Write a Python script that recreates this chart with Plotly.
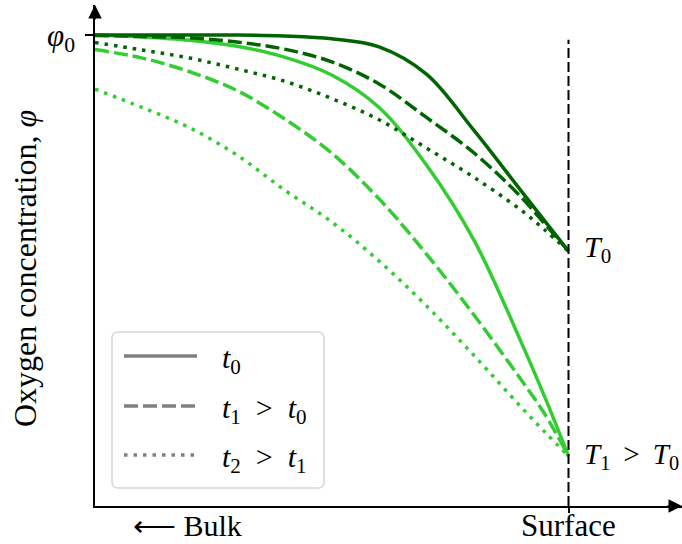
import plotly.graph_objects as go

# Oxygen concentration profiles from the bulk (left, 0) to the surface (right, 1).
# Two surface temperatures (T0 dark, T1 light), three times each (solid, dashed, dotted).
depth = [0, 0.1, 0.2, 0.3, 0.4, 0.5, 0.6, 0.7, 0.8, 0.9, 0.95, 1.0]

dark_t0 = [1.0, 1.0, 1.0, 1.0, 0.998, 0.992, 0.975, 0.917, 0.798, 0.669, 0.605, 0.541]
dark_t1 = [0.999, 0.997, 0.994, 0.985, 0.970, 0.943, 0.896, 0.825, 0.750, 0.656, 0.599, 0.541]
dark_t2 = [0.984, 0.968, 0.951, 0.928, 0.902, 0.865, 0.820, 0.760, 0.698, 0.628, 0.586, 0.541]

light_t0 = [1.0, 0.996, 0.989, 0.976, 0.953, 0.915, 0.846, 0.724, 0.565, 0.348, 0.231, 0.106]
light_t1 = [0.969, 0.951, 0.922, 0.882, 0.822, 0.749, 0.652, 0.535, 0.406, 0.268, 0.195, 0.106]
light_t2 = [0.885, 0.846, 0.803, 0.745, 0.671, 0.603, 0.520, 0.425, 0.320, 0.210, 0.157, 0.106]

time_labels = ["<i>t</i><sub>0</sub>",
               "<i>t</i><sub>1</sub>\u00a0\u00a0>\u00a0\u00a0<i>t</i><sub>0</sub>",
               "<i>t</i><sub>2</sub>\u00a0\u00a0>\u00a0\u00a0<i>t</i><sub>1</sub>"]
temp_labels = ["<i>T</i><sub>0</sub>",
               "<i>T</i><sub>1</sub>\u00a0\u2009>\u00a0\u2009<i>T</i><sub>0</sub>"]
x_labels = ["\u27f5 Bulk", "Surface"]
y_label = "Oxygen concentration, <i>\u03c6</i>"
y_tick_label = "<i>\u03c6</i><sub>0</sub>"

SURFACE_X = 1.0
PHI0 = 1.0

DARK = "#006400"
LIGHT = "#32CD32"
GRAY = "#808080"
FONT = "Liberation Serif"
DASHES = ["solid", "14px,5px", "3.5px,6px"]

W, H = 682, 544
ML, MR, MT, MB = 95, 0, 5, 38
X_MAX = 1.2397
Y_MAX = 1.0637


def px_x(px):
    return (px - ML) / (W - ML - MR)


def px_y(py):
    return (H - MB - py) / (H - MT - MB)


fig = go.Figure()

series = [
    (light_t0, LIGHT, 0), (light_t1, LIGHT, 1), (light_t2, LIGHT, 2),
    (dark_t0, DARK, 0), (dark_t1, DARK, 1), (dark_t2, DARK, 2),
]
for ys, col, k in series:
    fig.add_trace(go.Scatter(
        x=depth, y=ys, mode="lines",
        line=dict(color=col, width=3.5, dash=DASHES[k], shape="spline", smoothing=1.0),
        showlegend=False, hoverinfo="skip"))

shapes = []
# surface marker line
shapes.append(dict(type="line", xref="x", yref="y", x0=SURFACE_X, x1=SURFACE_X,
                   y0=0, y1=0.99, line=dict(color="black", width=2, dash="10px,4px")))

# legend box with rounded corners
bx0, bx1, by0, by1, r = 112, 324, 332, 488, 6
path = (f"M {px_x(bx0 + r)} {px_y(by0)} L {px_x(bx1 - r)} {px_y(by0)} "
        f"Q {px_x(bx1)} {px_y(by0)} {px_x(bx1)} {px_y(by0 + r)} "
        f"L {px_x(bx1)} {px_y(by1 - r)} Q {px_x(bx1)} {px_y(by1)} {px_x(bx1 - r)} {px_y(by1)} "
        f"L {px_x(bx0 + r)} {px_y(by1)} Q {px_x(bx0)} {px_y(by1)} {px_x(bx0)} {px_y(by1 - r)} "
        f"L {px_x(bx0)} {px_y(by0 + r)} Q {px_x(bx0)} {px_y(by0)} {px_x(bx0 + r)} {px_y(by0)} Z")
shapes.append(dict(type="path", xref="paper", yref="paper", path=path,
                   line=dict(color="#d6d6d6", width=1.5), fillcolor="rgba(255,255,255,0.85)",
                   layer="above"))

annotations = []
rows = [356, 406, 455]
for k, (row, lab) in enumerate(zip(rows, time_labels)):
    shapes.append(dict(type="line", xref="paper", yref="paper",
                       x0=px_x(124), x1=px_x(197), y0=px_y(row), y1=px_y(row),
                       line=dict(color=GRAY, width=3.5, dash=DASHES[k])))
    annotations.append(dict(xref="paper", yref="paper", x=px_x(220), y=px_y(row + 4),
                            text=lab, showarrow=False, xanchor="left", yanchor="middle",
                            font=dict(family=FONT, size=30, color="black")))

# temperature labels at the surface end of each set of curves
annotations.append(dict(xref="x", yref="y", x=SURFACE_X, y=dark_t0[-1], xshift=13, yshift=2,
                        text=temp_labels[0], showarrow=False, xanchor="left", yanchor="middle",
                        font=dict(family=FONT, size=30, color="black")))
annotations.append(dict(xref="x", yref="y", x=SURFACE_X, y=light_t0[-1], xshift=13, yshift=0,
                        text=temp_labels[1], showarrow=False, xanchor="left", yanchor="middle",
                        font=dict(family=FONT, size=29, color="black")))

# x-axis text
annotations.append(dict(xref="paper", yref="paper", x=px_x(187), y=px_y(525.5),
                        text=x_labels[0], showarrow=False, xanchor="center", yanchor="middle",
                        font=dict(family=FONT, size=30, color="black")))
annotations.append(dict(xref="x", yref="paper", x=SURFACE_X, y=px_y(525.5),
                        text=x_labels[1], showarrow=False, xanchor="center", yanchor="middle",
                        font=dict(family=FONT, size=31, color="black")))
# y-axis title
annotations.append(dict(xref="paper", yref="paper", x=px_x(25), y=px_y(269),
                        text=y_label, showarrow=False, textangle=-90,
                        xanchor="center", yanchor="middle",
                        font=dict(family=FONT, size=32, color="black")))

# arrowheads on both axes
annotations.append(dict(xref="x", yref="y", x=0, y=Y_MAX, ax=0, ay=16, text="",
                        showarrow=True, arrowhead=2, arrowsize=1.8, arrowwidth=1.5,
                        arrowcolor="black"))
annotations.append(dict(xref="x", yref="y", x=X_MAX, y=0, ax=-16, ay=0, text="",
                        showarrow=True, arrowhead=2, arrowsize=1.8, arrowwidth=1.5,
                        arrowcolor="black"))

fig.update_layout(
    width=W, height=H,
    margin=dict(l=ML, r=MR, t=MT, b=MB),
    paper_bgcolor="white", plot_bgcolor="white",
    showlegend=False,
    shapes=shapes, annotations=annotations,
    xaxis=dict(range=[0, X_MAX], showgrid=False, zeroline=False,
               showline=True, linecolor="black", linewidth=1.5,
               tickvals=[SURFACE_X], ticks="outside", ticklen=5, tickwidth=1.5,
               tickcolor="black", showticklabels=False, fixedrange=True),
    yaxis=dict(range=[0, Y_MAX], showgrid=False, zeroline=False,
               showline=True, linecolor="black", linewidth=1.5,
               tickvals=[PHI0], ticktext=[y_tick_label], ticks="outside",
               ticklen=8, tickwidth=1.5, tickcolor="black", ticklabelstandoff=4,
               tickfont=dict(family=FONT, size=31, color="black"), fixedrange=True),
)

fig.write_html("out.html")
